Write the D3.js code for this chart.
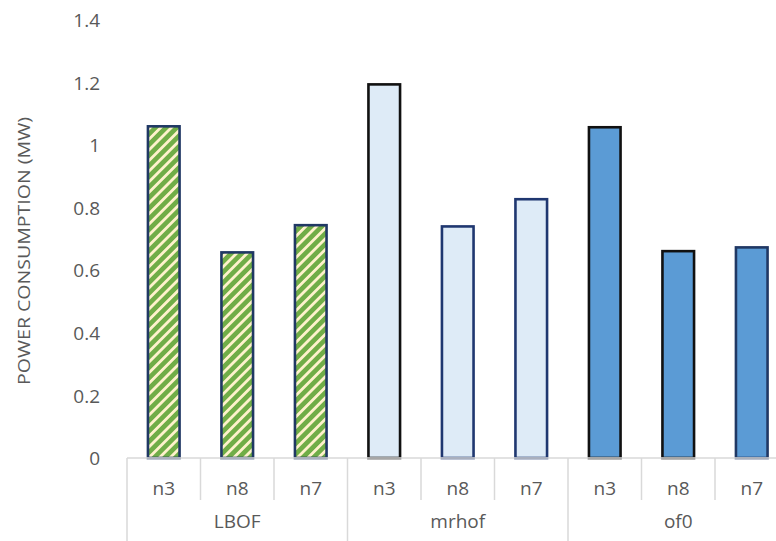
<!DOCTYPE html>
<html>
<head>
<meta charset="utf-8">
<script src="https://cdn.jsdelivr.net/npm/d3@7"></script>
<style>
  html, body { margin: 0; padding: 0; background: #fff; }
  svg { display: block; }
</style>
</head>
<body>
<svg id="chart" width="776" height="541"></svg>
<script>
// ---- data ----
const groups = ["LBOF", "mrhof", "of0"];
const nodes = ["n3", "n8", "n7"];
const lbofValues  = [1.064, 0.661, 0.748];
const mrhofValues = [1.198, 0.744, 0.831];
const of0Values   = [1.061, 0.665, 0.677];
const yTicks = [0, 0.2, 0.4, 0.6, 0.8, 1, 1.2, 1.4];
const yTitle = "POWER CONSUMPTION (MW)";

// ---- styles ----
const groupFills = { "LBOF": "url(#stripes)", "mrhof": "#DEEBF7", "of0": "#5B9BD5" };
const groupStrokes = {
  "LBOF": ["#203864", "#203864", "#203864"],
  "mrhof": ["#111111", "#1F3770", "#1F3770"],
  "of0": ["#111111", "#111111", "#203864"]
};

const seriesByGroup = { "LBOF": lbofValues, "mrhof": mrhofValues, "of0": of0Values };
const rows = [];
groups.forEach(g => nodes.forEach((n, i) => rows.push({ group: g, node: n, idx: i, value: seriesByGroup[g][i], key: g + "|" + n })));

const svg = d3.select("#chart");
const defs = svg.append("defs");
const pat = defs.append("pattern")
  .attr("id", "stripes")
  .attr("patternUnits", "userSpaceOnUse")
  .attr("width", 7.5).attr("height", 7.5)
  .attr("patternTransform", "rotate(45)");
pat.append("rect").attr("width", 7.5).attr("height", 7.5).attr("fill", "#70AD47");
pat.append("rect").attr("width", 2.8).attr("height", 7.5).attr("fill", "#FFF2CC");

const left = 127, right = 127 + 9 * 73.5, baseY = 458, topY = 20;
const x = d3.scaleBand().domain(rows.map(d => d.key)).range([left, right]).paddingInner(0).paddingOuter(0);
const y = d3.scaleLinear().domain([0, 1.4]).range([baseY, topY]);

const textColor = "#595959";
const font = "'Open Sans', 'DejaVu Sans', sans-serif";

// Y axis labels (no axis line)
const yAxis = d3.axisLeft(y).tickValues(yTicks).tickFormat(d => d3.format("")(+d.toFixed(1))).tickSize(0).tickPadding(0);
const yg = svg.append("g").attr("transform", "translate(100,0)").call(yAxis);
yg.select(".domain").remove();
yg.selectAll("text").attr("font-family", font).attr("font-size", 19).attr("fill", textColor).attr("dy", "0.35em");

// Y title
svg.append("text")
  .attr("transform", "translate(30,251) rotate(-90)")
  .attr("text-anchor", "middle")
  .attr("font-family", font)
  .attr("font-size", 16.5)
  .attr("fill", textColor)
  .attr("textLength", 268)
  .attr("lengthAdjust", "spacingAndGlyphs")
  .text(yTitle);

// Bars
const barW = x.bandwidth() * 0.43;
svg.append("g").selectAll("rect")
  .data(rows).join("rect")
  .attr("x", d => x(d.key) + (x.bandwidth() - barW) / 2)
  .attr("y", d => y(d.value) + 1.2)
  .attr("width", barW)
  .attr("height", d => baseY - y(d.value) - 1.2)
  .attr("fill", d => groupFills[d.group])
  .attr("stroke", d => groupStrokes[d.group][d.idx])
  .attr("stroke-width", 2.6);

// X axis (multi-level category)
const axisColor = "#D9D9D9";
const ax = svg.append("g");
ax.append("line").attr("x1", left).attr("x2", right).attr("y1", baseY).attr("y2", baseY)
  .attr("stroke", axisColor).attr("stroke-width", 1.5);
rows.forEach((d, i) => {
  const xb = x(d.key);
  const isGroupStart = d.idx === 0;
  ax.append("line").attr("x1", xb).attr("x2", xb).attr("y1", baseY).attr("y2", isGroupStart ? 541 : 500)
    .attr("stroke", axisColor).attr("stroke-width", 1.5);
});
ax.append("line").attr("x1", right).attr("x2", right).attr("y1", baseY).attr("y2", 541)
  .attr("stroke", axisColor).attr("stroke-width", 1.5);

ax.selectAll("text.node").data(rows).join("text")
  .attr("class", "node")
  .attr("x", d => x(d.key) + x.bandwidth() / 2)
  .attr("y", 488).attr("dy", "0.35em")
  .attr("text-anchor", "middle")
  .attr("font-family", font).attr("font-size", 19).attr("fill", textColor)
  .text(d => d.node);

ax.selectAll("text.group").data(groups).join("text")
  .attr("class", "group")
  .attr("x", g => (x(g + "|" + nodes[0]) + x(g + "|" + nodes[nodes.length - 1]) + x.bandwidth()) / 2)
  .attr("y", 521).attr("dy", "0.35em")
  .attr("text-anchor", "middle")
  .attr("font-family", font).attr("font-size", 19).attr("fill", textColor)
  .text(g => g);
</script>
</body>
</html>
